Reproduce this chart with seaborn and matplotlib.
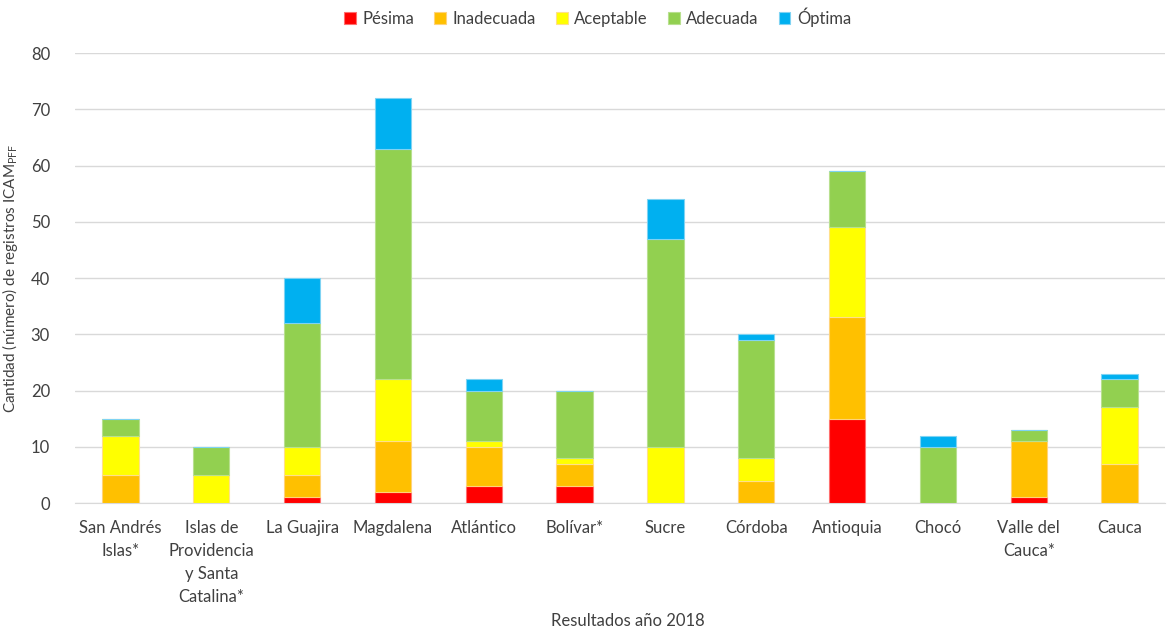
import matplotlib.pyplot as plt
import seaborn as sns
import numpy as np
import pandas as pd

# Datos (ICAM PFF 2018)
departamentos = ["San Andrés\nIslas*", "Islas de\nProvidencia\ny Santa\nCatalina*", "La Guajira",
                 "Magdalena", "Atlántico", "Bolívar*", "Sucre", "Córdoba", "Antioquia",
                 "Chocó", "Valle del\nCauca*", "Cauca"]
pesima = [0, 0, 1, 2, 3, 3, 0, 0, 15, 0, 1, 0]
inadecuada = [5, 0, 4, 9, 7, 4, 0, 4, 18, 0, 10, 7]
aceptable = [7, 5, 5, 11, 1, 1, 10, 4, 16, 0, 0, 10]
adecuada = [3, 5, 22, 41, 9, 12, 37, 21, 10, 10, 2, 5]
optima = [0, 0, 8, 9, 2, 0, 7, 1, 0, 2, 0, 1]

categorias = ["Pésima", "Inadecuada", "Aceptable", "Adecuada", "Óptima"]
colores = ["#FF0000", "#FFC000", "#FFFF00", "#92D050", "#00B0F0"]
bordes = ["#FF6F6F", "#FFD37A", "#FFE08A", "#B8E08F", "#7FD3F3"]

sns.set_style("white")
plt.rcParams['font.family'] = ['Lato', 'DejaVu Sans']

fig = plt.figure(figsize=(11.72, 6.32), dpi=100)
ax = fig.add_axes([0.064, 0.204, 0.93, 0.712])

df = pd.DataFrame({"dep": departamentos})
base = np.zeros(len(departamentos))
for nombre, valores, color, borde in zip(categorias, [pesima, inadecuada, aceptable, adecuada, optima], colores, bordes):
    df["val"] = valores
    sns.barplot(data=df, x="dep", y="val", bottom=base, color=color, width=0.4, saturation=1,
                edgecolor=borde, linewidth=0.8, label=nombre, ax=ax, zorder=3)
    base = base + np.array(valores)

ax.set_ylim(0, 80)
ax.set_xlim(-0.5, len(departamentos) - 0.5)
ax.set_yticks(range(0, 81, 10))
ax.yaxis.grid(True, color="#D9D9D9", linewidth=1, zorder=0)
for lado in ["top", "right", "left"]:
    ax.spines[lado].set_visible(False)
ax.spines["bottom"].set_color("#D9D9D9")
ax.tick_params(axis="both", length=0, labelsize=12, colors="#404040")
ax.tick_params(axis="x", pad=12)
ax.tick_params(axis="y", pad=18)
for t in ax.get_xticklabels():
    t.set_linespacing(1.55)

ax.set_xlabel("")
fig.text(0.536, 1 - 621 / 632, "Resultados año 2018", fontsize=12, color="#404040", ha="center", va="center")
ax.set_ylabel(r"Cantidad (número) de registros ICAM$_{\mathregular{PFF}}$", fontsize=11, color="#404040", labelpad=8)

if ax.get_legend():
    ax.get_legend().remove()
handles, labels = ax.get_legend_handles_labels()
fig.legend(handles, labels, loc="center", bbox_to_anchor=(0.51, 1 - 17 / 632), ncol=5, frameon=False,
           fontsize=12, handlelength=0.7, handleheight=0.7, handletextpad=0.4,
           columnspacing=1.2, labelcolor="#404040")

fig.savefig("out.png", dpi=100, facecolor="white")
